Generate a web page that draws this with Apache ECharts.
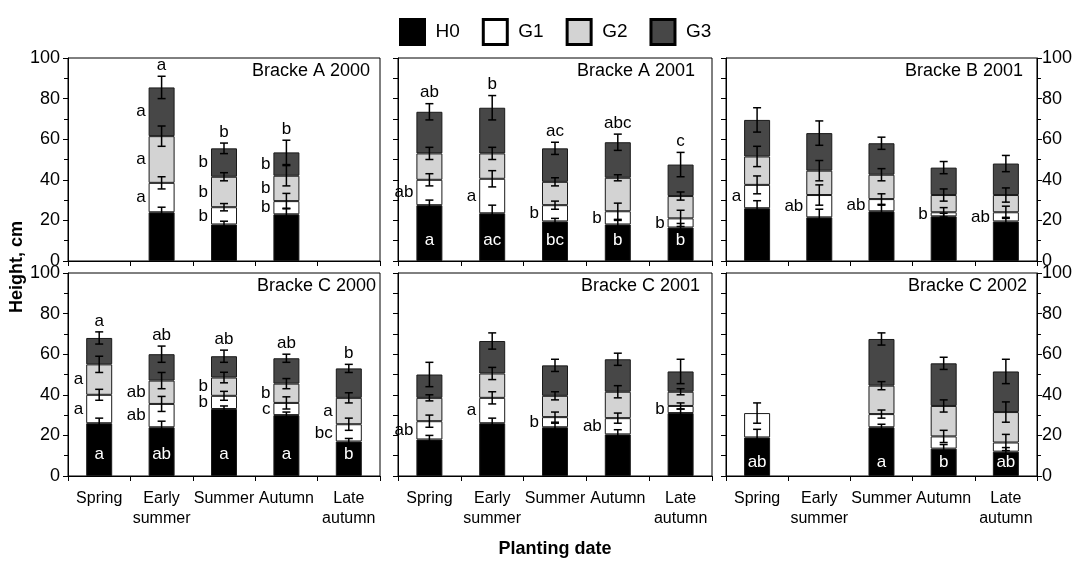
<!DOCTYPE html>
<html><head><meta charset="utf-8">
<script src="https://cdn.jsdelivr.net/npm/echarts@6/dist/echarts.min.js"></script>
<style>html,body{margin:0;padding:0;background:#fff}#c{width:1075px;height:561px}</style>
</head><body><div id="c"></div>
<script>
// ---------------- DATA ----------------
const categories = ['Spring', 'Early\nsummer', 'Summer', 'Autumn', 'Late\nautumn'];
const seriesNames = ['H0', 'G1', 'G2', 'G3'];
const panelTitles = ['Bracke A 2000', 'Bracke A 2001', 'Bracke B 2001', 'Bracke C 2000', 'Bracke C 2001', 'Bracke C 2002'];
const yAxisTitle = 'Height, cm';
const xAxisTitle = 'Planting date';

// segment heights (cm), per planting date
const A2000_H0 = [null, 24, 18, 23, null];
const A2000_G1 = [null, 14.5, 8.5, 6.5, null];
const A2000_G2 = [null, 23, 15, 12.5, null];
const A2000_G3 = [null, 24, 14, 11.5, null];
const A2000_H0_err = [null, 2.5, 1.6, 3, null];
const A2000_G1_err = [null, 3, 1.8, 3.8, null];
const A2000_G2_err = [null, 5, 2, 5, null];
const A2000_G3_err = [null, 5.5, 2.6, 6, null];

const A2001_H0 = [27.5, 23.5, 19.5, 18, 16.5];
const A2001_G1 = [12.5, 17, 8, 6.5, 4.5];
const A2001_G2 = [13, 12.5, 11.5, 16.5, 11];
const A2001_G3 = [20.5, 22.5, 16.5, 17.5, 15.5];
const A2001_H0_err = [2.5, 4, 1.5, 2, 2];
const A2001_G1_err = [3, 4, 2, 4, 4];
const A2001_G2_err = [3, 3, 2, 1.5, 2];
const A2001_G3_err = [4, 6, 3, 4, 6];

const B2001_H0 = [26, 21.5, 24.5, 22, 19.5];
const B2001_G1 = [11.5, 11, 6, 2, 4.5];
const B2001_G2 = [14, 12, 12, 8.5, 8.5];
const B2001_G3 = [18, 18.5, 15.5, 13.5, 15.5];
const B2001_H0_err = [3.7, 4, 3, 1.5, 2];
const B2001_G1_err = [4.4, 5, 2.6, 2.3, 3];
const B2001_G2_err = [5, 5, 3, 3, 3.5];
const B2001_G3_err = [6, 6, 3, 3, 4];

const C2000_H0 = [26, 24, 33, 30, 17];
const C2000_G1 = [14, 11.5, 6.5, 6, 8.5];
const C2000_G2 = [15, 11.5, 9, 9.5, 13];
const C2000_G3 = [13, 13, 10.5, 12.5, 14.5];
const C2000_H0_err = [2.5, 3, 1.5, 1.5, 1.5];
const C2000_G1_err = [2.7, 3.7, 2.2, 3, 3];
const C2000_G2_err = [4, 4, 2.6, 2.5, 2.5];
const C2000_G3_err = [3, 4, 3, 2, 2];

const C2001_H0 = [18, 26, 24, 20.5, 31];
const C2001_G1 = [9, 12.5, 5, 8, 3.5];
const C2001_G2 = [11.5, 12, 10.5, 13, 7];
const C2001_G3 = [11.5, 16, 15, 16, 10];
const C2001_H0_err = [2, 2.5, 2, 2.3, 2];
const C2001_G1_err = [3, 3, 2.5, 2.5, 1.5];
const C2001_G2_err = [1.5, 3, 2, 3, 1.5];
const C2001_G3_err = [6, 4, 3, 3, 6];

const C2002_H0 = [19, null, 24, 13.5, 12];
const C2002_G1 = [12, null, 6.5, 6, 4.5];
const C2002_G2 = [null, null, 14, 15, 15];
const C2002_G3 = [null, null, 23, 21, 20];
const C2002_H0_err = [4, null, 1.5, 2, 2];
const C2002_G1_err = [5, null, 2, 3, 4];
const C2002_G2_err = [null, null, 2, 3, 5];
const C2002_G3_err = [null, null, 3, 3, 6];

// significance letters
const A2000_topLetters = [null, 'a', 'b', 'b', null];
const A2000_G3_letters = [null, 'a', 'b', 'b', null];
const A2000_G2_letters = [null, 'a', 'b', 'b', null];
const A2000_G1_letters = [null, 'a', 'b', 'b', null];
const A2001_topLetters = ['ab', 'b', 'ac', 'abc', 'c'];
const A2001_G1_letters = ['ab', 'a', 'b', 'b', 'b'];
const A2001_H0_letters = ['a', 'ac', 'bc', 'b', 'b'];
const B2001_G1_letters = ['a', 'ab', 'ab', 'b', 'ab'];
const C2000_topLetters = ['a', 'ab', 'ab', 'ab', 'b'];
const C2000_G2_letters = ['a', 'ab', 'b', 'b', 'a'];
const C2000_G1_letters = ['a', 'ab', 'b', 'c', 'bc'];
const C2000_H0_letters = ['a', 'ab', 'a', 'a', 'b'];
const C2001_G1_letters = ['ab', 'a', 'b', 'ab', 'b'];
const C2002_H0_letters = ['ab', null, 'a', 'b', 'ab'];

// ---------------- LAYOUT / STYLE ----------------
const FONT = 'Liberation Sans, Arial, Helvetica, sans-serif';
const colors = ['#000000', '#ffffff', '#d3d3d3', '#474747'];
const gridLefts = [68, 398, 726];
const gridWidths = [312, 314, 314];
const gridTops = [58, 273];
const gridHeight = 203;
const barWidth = 26;
const titleRights = [705, 380, 52, 699, 375, 48];
const insideLetterValue = [10, 10, 10, 10.5, 10, 6.5];

const panels = [
  { seg: [A2000_H0, A2000_G1, A2000_G2, A2000_G3], err: [A2000_H0_err, A2000_G1_err, A2000_G2_err, A2000_G3_err],
    top: A2000_topLetters, left: [null, A2000_G1_letters, A2000_G2_letters, A2000_G3_letters], inside: null },
  { seg: [A2001_H0, A2001_G1, A2001_G2, A2001_G3], err: [A2001_H0_err, A2001_G1_err, A2001_G2_err, A2001_G3_err],
    top: A2001_topLetters, left: [null, A2001_G1_letters, null, null], inside: A2001_H0_letters },
  { seg: [B2001_H0, B2001_G1, B2001_G2, B2001_G3], err: [B2001_H0_err, B2001_G1_err, B2001_G2_err, B2001_G3_err],
    top: null, left: [null, B2001_G1_letters, null, null], inside: null },
  { seg: [C2000_H0, C2000_G1, C2000_G2, C2000_G3], err: [C2000_H0_err, C2000_G1_err, C2000_G2_err, C2000_G3_err],
    top: C2000_topLetters, left: [null, C2000_G1_letters, C2000_G2_letters, null], inside: C2000_H0_letters },
  { seg: [C2001_H0, C2001_G1, C2001_G2, C2001_G3], err: [C2001_H0_err, C2001_G1_err, C2001_G2_err, C2001_G3_err],
    top: null, left: [null, C2001_G1_letters, null, null], inside: null },
  { seg: [C2002_H0, C2002_G1, C2002_G2, C2002_G3], err: [C2002_H0_err, C2002_G1_err, C2002_G2_err, C2002_G3_err],
    top: null, left: [null, null, null, null], inside: C2002_H0_letters }
];

const grids = [], xAxes = [], yAxes = [], series = [], titles = [];

panels.forEach((p, i) => {
  const row = Math.floor(i / 3), col = i % 3;
  grids.push({ left: gridLefts[col], top: gridTops[row], width: gridWidths[col], height: gridHeight,
    show: true, borderColor: '#000', borderWidth: 1, backgroundColor: 'transparent' });
  xAxes.push({ type: 'category', gridIndex: i, data: categories,
    axisLine: { show: true, lineStyle: { color: '#000', width: 1 } },
    axisTick: { show: true, length: 5, lineStyle: { color: '#000' } },
    splitLine: { show: false },
    axisLabel: { show: row === 1, interval: 0, color: '#000', fontSize: 16, fontFamily: FONT, lineHeight: 20, margin: 13 } });
  const yIdx = yAxes.length;
  yAxes.push({ type: 'value', gridIndex: i, min: 0, max: 100, interval: 20, position: 'left',
    axisLine: { show: true, lineStyle: { color: '#000', width: 1 } },
    axisTick: { show: true, length: 5, lineStyle: { color: '#000' } },
    minorTick: { show: true, splitNumber: 2, length: col === 0 ? 4 : 5, lineStyle: { color: '#000' } },
    splitLine: { show: false }, minorSplitLine: { show: false },
    axisLabel: { show: col === 0, color: '#000', fontSize: 18, fontFamily: FONT, margin: 8 } });
  if (col === 2) {
    yAxes.push({ type: 'value', gridIndex: i, min: 0, max: 100, interval: 20, position: 'right',
      axisLine: { show: true, lineStyle: { color: '#000', width: 1 } },
      axisTick: { show: true, length: 5, lineStyle: { color: '#000' } },
      minorTick: { show: true, splitNumber: 2, length: 4, lineStyle: { color: '#000' } },
      splitLine: { show: false },
      axisLabel: { show: true, color: '#000', fontSize: 18, fontFamily: FONT, margin: 5 } });
  }
  titles.push({ text: panelTitles[i], right: titleRights[i], top: gridTops[row] + 4, padding: 0,
    textStyle: { fontSize: 18, fontWeight: 'normal', color: '#000', fontFamily: FONT } });

  // stacked bars
  p.seg.forEach((arr, s) => {
    series.push({ type: 'bar', name: seriesNames[s], xAxisIndex: i, yAxisIndex: yIdx, stack: 'p' + i,
      barWidth: barWidth, data: arr, z: 2,
      itemStyle: { color: colors[s], borderColor: '#1a1a1a', borderWidth: 1 } });
  });

  // error bars
  const errData = [];
  for (let s = 0; s < 4; s++) {
    for (let c = 0; c < categories.length; c++) {
      if (p.seg[s][c] == null || p.err[s][c] == null) continue;
      let cum = 0;
      for (let k = 0; k <= s; k++) cum += (p.seg[k][c] || 0);
      errData.push([c, cum, p.err[s][c]]);
    }
  }
  series.push({ type: 'custom', name: 'err' + i, xAxisIndex: i, yAxisIndex: yIdx, z: 5, silent: true,
    data: errData,
    renderItem: (params, api) => {
      const c = api.value(0), v = api.value(1), e = api.value(2);
      const t = api.coord([c, v + e]), b = api.coord([c, v - e]);
      const st = { stroke: '#000', lineWidth: 1.5 };
      const cap = 4;
      return { type: 'group', children: [
        { type: 'line', shape: { x1: t[0], y1: t[1], x2: b[0], y2: b[1] }, style: st },
        { type: 'line', shape: { x1: t[0] - cap, y1: t[1], x2: t[0] + cap, y2: t[1] }, style: st },
        { type: 'line', shape: { x1: b[0] - cap, y1: b[1], x2: b[0] + cap, y2: b[1] }, style: st }
      ] };
    } });

  // letters
  const items = [];
  for (let c = 0; c < categories.length; c++) {
    let cum = 0, topErr = 0;
    for (let s = 0; s < 4; s++) {
      const v = p.seg[s][c];
      if (v == null) continue;
      if (p.left[s] && p.left[s][c]) items.push({ c: c, y: cum + v / 2, text: p.left[s][c], kind: 'left' });
      cum += v; topErr = p.err[s][c] || 0;
    }
    if (p.top && p.top[c]) items.push({ c: c, y: cum + topErr, text: p.top[c], kind: 'top' });
    if (p.inside && p.inside[c]) items.push({ c: c, y: insideLetterValue[i], text: p.inside[c], kind: 'inside' });
  }
  series.push({ type: 'custom', name: 'lbl' + i, xAxisIndex: i, yAxisIndex: yIdx, z: 6, silent: true,
    data: items.map(it => [it.c, it.y]),
    renderItem: (params, api) => {
      const it = items[params.dataIndex];
      const pt = api.coord([api.value(0), api.value(1)]);
      let x = pt[0], y = pt[1], align = 'center', fill = '#000';
      if (it.kind === 'left') { x = pt[0] - barWidth / 2 - 3; align = 'right'; }
      else if (it.kind === 'top') { y = pt[1] - 11; }
      else { fill = '#fff'; }
      return { type: 'text', x: x, y: y,
        style: { text: it.text, fill: fill, font: '17px ' + FONT, align: align, verticalAlign: 'middle',
          textAlign: align, textVerticalAlign: 'middle' } };
    } });
});

const option = {
  animation: false,
  backgroundColor: '#fff',
  title: titles,
  legend: { top: 13, left: 394, itemWidth: 24, itemHeight: 25, itemGap: 22, icon: 'rect', selectedMode: false,
    textStyle: { fontSize: 19, color: '#000', fontFamily: FONT, padding: [0, 0, 0, 6] },
    data: seriesNames.map(n => ({ name: n, itemStyle: { borderColor: '#000', borderWidth: 3 } })) },
  grid: grids, xAxis: xAxes, yAxis: yAxes, series: series,
  graphic: [
    { type: 'text', x: 17, y: 267, rotation: Math.PI / 2,
      style: { text: yAxisTitle, font: 'bold 18px ' + FONT, fill: '#000', align: 'center', verticalAlign: 'middle' } },
    { type: 'text', x: 555, y: 549,
      style: { text: xAxisTitle, font: 'bold 18px ' + FONT, fill: '#000', align: 'center', verticalAlign: 'middle' } }
  ]
};
const chart = echarts.init(document.getElementById('c'), null, { renderer: 'canvas' });
chart.setOption(option);
</script></body></html>
